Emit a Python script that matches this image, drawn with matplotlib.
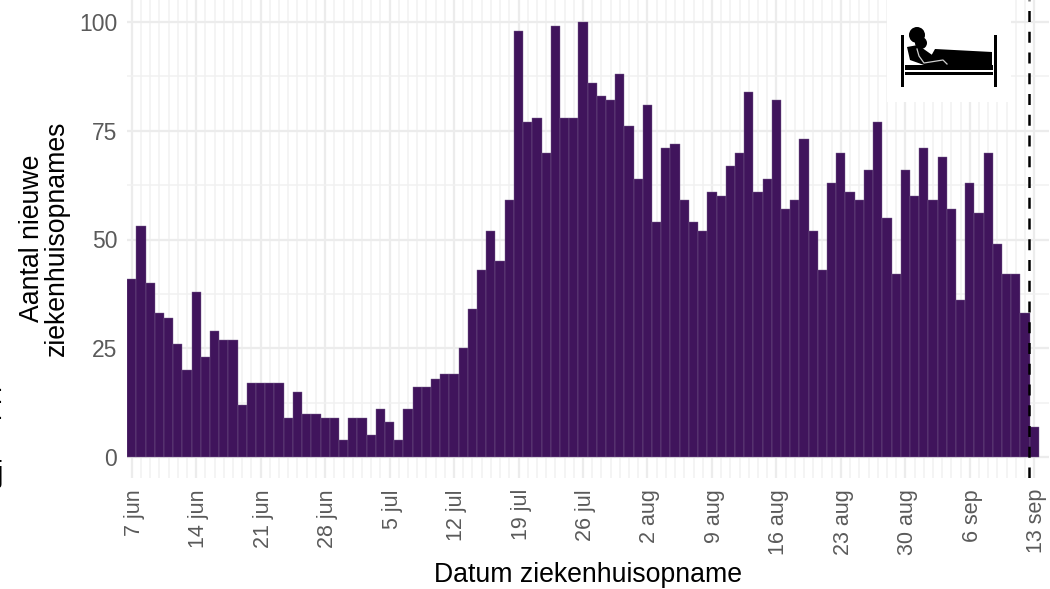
import numpy as np
import matplotlib
matplotlib.use('Agg')
import matplotlib.pyplot as plt
from matplotlib.patches import Circle, Polygon, Rectangle
from matplotlib.transforms import ScaledTranslation

plt.rcParams['font.family'] = ['Liberation Sans', 'DejaVu Sans']

# Aantal opnames per dag, vanaf 7 jun
opnames = [41, 53, 40, 33, 32, 26, 20, 38, 23, 29, 27, 27, 12, 17, 17, 17, 17, 9, 15, 10,
           10, 9, 9, 4, 9, 9, 5, 11, 8, 4, 11, 16, 16, 18, 19, 19, 25, 34, 43, 52,
           45, 59, 98, 77, 78, 70, 99, 78, 78, 100, 86, 83, 82, 88, 76, 64, 81, 54, 71, 72,
           59, 54, 52, 61, 60, 67, 70, 84, 61, 64, 82, 57, 59, 73, 52, 43, 63, 70, 61, 59,
           66, 77, 55, 42, 66, 60, 71, 59, 69, 57, 36, 63, 56, 70, 49, 42, 42, 33, 7]
dagen = np.arange(len(opnames))
week_labels = ['7 jun', '14 jun', '21 jun', '28 jun', '5 jul', '12 jul', '19 jul', '26 jul',
               '2 aug', '9 aug', '16 aug', '23 aug', '30 aug', '6 sep', '13 sep']
y_ticks = [0, 25, 50, 75, 100]

W, H = 1050, 589
fig = plt.figure(figsize=(W / 100, H / 100), dpi=100)

# Plotgebied in pixels
left, right, top, bottom = 127, 1049, 0, 478
ax = fig.add_axes([left / W, 1 - bottom / H, (right - left) / W, (bottom - top) / H])

px_day = 9.21
x0 = (131.7 - left) / px_day
ax.set_xlim(-x0, (right - left) / px_day - x0)
ax.set_ylim((457 - bottom) / 4.35, (457 - top) / 4.35)

ax.bar(dagen, opnames, width=1.0, color='#40145c', edgecolor='#7a6390', linewidth=0.3, zorder=3)
ax.axvline(97.42, color='black', linestyle=(0, (4.4, 3.9)), linewidth=1.8, zorder=4)

week_pos = np.arange(0, len(opnames), 7)
ax.set_xticks(week_pos)
ax.set_xticklabels(week_labels, rotation=90, ha='center', va='top')
ax.set_yticks(y_ticks)
ax.set_xticks(dagen, minor=True)
ax.set_yticks([12.5, 37.5, 62.5, 87.5], minor=True)
ax.tick_params(axis='both', which='both', length=0)
ax.tick_params(axis='x', labelsize=15.5, labelcolor='#5a5a5a', pad=8)
ax.tick_params(axis='y', labelsize=16.5, labelcolor='#5a5a5a', pad=7)
for lab in ax.get_xticklabels():
    lab.set_transform(lab.get_transform() + ScaledTranslation(2.5 / 100, 0, fig.dpi_scale_trans))
ax.grid(True, which='major', color='#ececec', linewidth=1.6, zorder=0)
ax.grid(True, which='minor', color='#f1f1f1', linewidth=1.1, zorder=0)
ax.set_axisbelow(True)
for s in ax.spines.values():
    s.set_visible(False)

fig.text(588 / W, 1 - 575 / H, 'Datum ziekenhuisopname', fontsize=19.2, color='black',
         ha='center', va='center')
fig.text(44.5 / W, 1 - 238 / H, 'Aantal nieuwe\nziekenhuisopnames', fontsize=19.2, color='black',
         rotation=90, ha='center', va='center', linespacing=0.95)

# Afgesneden tekst aan de linkerrand
for y in (391, 403, 419):
    fig.text(3 / W, 1 - y / H, '.', fontsize=16, ha='right', va='baseline')
fig.text(3 / W, 1 - 474 / H, 'j', fontsize=21, ha='right', va='center')

# Bed-icoon op witte achtergrond
icon = fig.add_axes([0, 0, 1, 1], facecolor='none')
icon.set_xlim(0, W)
icon.set_ylim(H, 0)
icon.axis('off')
icon.add_patch(Rectangle((887, 0), 124, 102, color='white', lw=0))
for x in (900.7, 994):
    icon.add_patch(Rectangle((x, 35), 3.4, 52, color='black', lw=0))
icon.add_patch(Rectangle((905, 65), 88, 4.6, color='black', lw=0))
icon.add_patch(Rectangle((905, 71.7), 88, 3.2, color='black', lw=0))
icon.add_patch(Polygon([(935, 49), (992, 52), (992, 65), (926, 65)], color='black', lw=0))
icon.add_patch(Polygon([(907, 47), (918, 45), (935, 57), (945, 62), (948, 65), (924, 65),
                       (910, 60)], color='black', lw=0, zorder=3))
icon.add_patch(Circle((917, 35), 8, color='black', lw=0, zorder=4))
icon.add_patch(Circle((921, 43), 6, color='black', lw=0, zorder=4))
icon.plot([917, 919, 924, 943, 947], [49, 56, 63, 60, 64], color='#d0d0d0', lw=0.9, zorder=5)

fig.savefig('out.png', dpi=100)
